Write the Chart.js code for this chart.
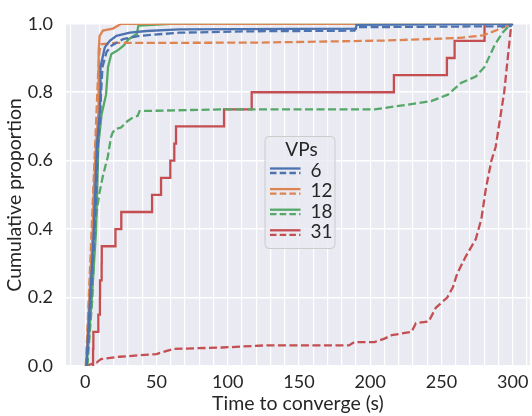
<!DOCTYPE html>
<html>
<head>
<meta charset="utf-8">
<script src="https://cdn.jsdelivr.net/npm/chart.js@4.4.1/dist/chart.umd.min.js"></script>
<style>
  html, body { margin: 0; padding: 0; background: #fff; }
  #wrap { width: 532px; height: 416px; }
</style>
</head>
<body>
<div id="wrap"><canvas id="cdfChart" width="532" height="416"></canvas></div>
<script>
// ticks / legend
const xTickLabels = [0, 50, 100, 150, 200, 250, 300];
const yTickLabels = [0, 0.2, 0.4, 0.6, 0.8, 1.0];
const vpLabels = ['6', '12', '18', '31'];
const vpColors = ['#4C72B0', '#DD8452', '#55A868', '#C44E52'];

// CDF points [time (s), proportion]
const vp6Solid = [[0.8, 0], [3.3, 0.19], [6, 0.39], [7, 0.506], [8.3, 0.65], [10.1, 0.736], [10.6, 0.79],
  [10.7, 0.874], [13.7, 0.931], [17.2, 0.95], [21.9, 0.965], [31.3, 0.974], [43, 0.979], [66, 0.984],
  [190, 0.986], [190.3, 0.997], [300, 1.0]];
const vp6Dashed = [[1, 0], [3.8, 0.19], [6.5, 0.39], [7.7, 0.506], [9, 0.65], [10.6, 0.736], [11, 0.79],
  [12.1, 0.874], [14.9, 0.917], [18.4, 0.936], [26.5, 0.955], [38.2, 0.965], [66, 0.974], [115, 0.978],
  [189, 0.98], [190, 0.99], [298.5, 0.993], [300, 1.0]];
const vp12Solid = [[0.6, 0], [2.8, 0.19], [5.2, 0.39], [6, 0.506], [7.6, 0.65], [9.2, 0.736], [9.4, 0.79],
  [9.4, 0.92], [10.1, 0.965], [12.4, 0.98], [19.4, 0.986], [25.3, 1.0], [300, 1.0]];
const vp12Dashed = [[0.4, 0], [2.5, 0.2], [4.5, 0.4], [6, 0.55], [7.5, 0.7], [9, 0.85], [10, 0.92],
  [11, 0.94], [20, 0.944], [120, 0.945], [210, 0.951], [245, 0.956], [263, 0.959], [279, 0.966],
  [289, 0.982], [298.5, 1.0]];
const vp18Solid = [[1, 0], [4.5, 0.19], [7.5, 0.39], [8.3, 0.506], [9.3, 0.65], [11.5, 0.736], [14.6, 0.793],
  [16, 0.874], [18.3, 0.912], [22.3, 0.921], [26.9, 0.936], [30.4, 0.955], [36.2, 0.97], [37.3, 0.995],
  [60, 1.0], [300, 1.0]];
const vp18Dashed = [[1.5, 0], [5, 0.2], [6.4, 0.38], [8, 0.45], [10, 0.506], [12.3, 0.554], [15.8, 0.611],
  [18.1, 0.669], [19.3, 0.683], [21.6, 0.693], [25.1, 0.697], [29.8, 0.716], [33.3, 0.726], [36.8, 0.731],
  [38.1, 0.745], [96, 0.75], [203, 0.75], [226.6, 0.764], [242.7, 0.774], [254.5, 0.793], [263.7, 0.827],
  [274.1, 0.846], [280.2, 0.874], [287.2, 0.937], [293, 0.975], [298.7, 1.0]];
const vp31Solid = [[5.5, 0], [5.5, 0.05], [5.7, 0.1], [9.2, 0.15], [10.3, 0.2], [10.4, 0.25], [11.5, 0.3],
  [11.6, 0.35], [21.2, 0.4], [25.3, 0.45], [46.9, 0.5], [53.2, 0.55], [59.7, 0.6], [62.5, 0.65],
  [63.7, 0.7], [97.4, 0.75], [116.8, 0.8], [216.6, 0.85], [253.8, 0.9], [259.2, 0.95], [280.2, 1.0]];
const vp31Dashed = [[0, 0], [8, 0.01], [11, 0.02], [24, 0.027], [50, 0.035], [62, 0.05], [96, 0.054],
  [125, 0.06], [185, 0.06], [189, 0.07], [203, 0.07], [210, 0.08], [215, 0.09], [229, 0.1], [232, 0.125],
  [241, 0.13], [246, 0.17], [254, 0.2], [258, 0.23], [261, 0.27], [267, 0.32], [274, 0.37], [278, 0.43],
  [281, 0.515], [285, 0.6], [288, 0.64], [294, 0.8], [299, 1.0]];

const solidSeries = [vp6Solid, vp12Solid, vp18Solid, vp31Solid];
const dashedSeries = [vp6Dashed, vp12Dashed, vp18Dashed, vp31Dashed];

const FONT = 'Lato';
const TEXT = '#262626';
const LW = 2.3;
const DASH = [8, 3.5];

const toXY = arr => arr.map(p => ({ x: p[0], y: p[1] }));

const datasets = [];
vpLabels.forEach((lab, i) => {
  datasets.push({
    label: lab, data: toXY(solidSeries[i]), borderColor: vpColors[i], borderWidth: LW,
    pointRadius: 0, tension: 0, fill: false, stepped: i === 3 ? 'before' : false,
    clip: { left: 0, top: 0, right: 0, bottom: 0 }, order: i * 2
  });
  datasets.push({
    label: lab + ' dashed', data: toXY(dashedSeries[i]), borderColor: vpColors[i], borderWidth: LW,
    borderDash: DASH, pointRadius: 0, tension: 0, fill: false,
    clip: { left: 0, top: 0, right: 0, bottom: 0 }, order: i * 2 + 1
  });
});

// grey-blue plot background like seaborn darkgrid
const bgPlugin = {
  id: 'bg',
  beforeDraw(chart) {
    const { ctx, chartArea: a } = chart;
    ctx.save();
    ctx.fillStyle = '#EAEAF2';
    ctx.fillRect(a.left, a.top, a.right - a.left, a.bottom - a.top);
    ctx.restore();
  }
};

// legend with solid + dashed sample per VP count
const vpLegend = {
  id: 'vpLegend',
  afterDatasetsDraw(chart) {
    const ctx = chart.ctx;
    const bx = 265, by = 136.5, bw = 70, bh = 112;
    ctx.save();
    ctx.beginPath();
    ctx.roundRect(bx, by, bw, bh, 4);
    ctx.fillStyle = 'rgba(234,234,242,0.8)';
    ctx.fill();
    ctx.strokeStyle = '#cccccc';
    ctx.lineWidth = 1;
    ctx.stroke();

    ctx.fillStyle = TEXT;
    ctx.font = '19px ' + FONT;
    ctx.textAlign = 'center';
    ctx.textBaseline = 'middle';
    ctx.fillText('VPs', 301.5, 149.5);

    ctx.textAlign = 'left';
    vpLabels.forEach((lab, i) => {
      const cy = 170.5 + i * 20.6;
      ctx.strokeStyle = vpColors[i];
      ctx.lineWidth = LW;
      ctx.setLineDash([]);
      ctx.beginPath();
      ctx.moveTo(270, cy - 2);
      ctx.lineTo(300.5, cy - 2);
      ctx.stroke();
      ctx.setLineDash([6.5, 3.2]);
      ctx.beginPath();
      ctx.moveTo(270, cy + 2.5);
      ctx.lineTo(300.5, cy + 2.5);
      ctx.stroke();
      ctx.fillText(lab, 310.5, cy);
    });
    ctx.restore();
  }
};

const minorX = [];
for (let v = -10; v <= 310; v += 10) minorX.push(v);

new Chart(document.getElementById('cdfChart'), {
  type: 'line',
  data: { datasets: datasets },
  plugins: [bgPlugin, vpLegend],
  options: {
    responsive: false,
    animation: false,
    devicePixelRatio: 1,
    layout: { padding: { top: 18, right: 0, left: 0, bottom: 0 } },
    plugins: { legend: { display: false }, tooltip: { enabled: false } },
    scales: {
      x: {
        type: 'linear',
        min: -13.5,
        max: 312,
        afterBuildTicks: s => { s.ticks = minorX.map(v => ({ value: v })); },
        afterFit: s => { s.height = 50; },
        ticks: {
          autoSkip: false, maxRotation: 0, padding: 5, color: TEXT,
          font: { family: FONT, size: 18 },
          callback: v => xTickLabels.includes(v) ? String(v) : ''
        },
        grid: { color: '#ffffff', lineWidth: 1.2, drawTicks: false },
        border: { display: false },
        title: {
          display: true, text: 'Time to converge (s)', color: TEXT,
          font: { family: FONT, size: 19.5 }, padding: { top: 0, bottom: 1 }
        }
      },
      y: {
        min: 0,
        max: 1,
        afterBuildTicks: s => { s.ticks = yTickLabels.map(v => ({ value: v })); },
        afterFit: s => { s.width = 66; },
        ticks: {
          padding: 13, color: TEXT, font: { family: FONT, size: 18 },
          callback: v => v.toFixed(1)
        },
        grid: { color: '#ffffff', lineWidth: 1.6, drawTicks: false },
        border: { display: false },
        title: {
          display: true, text: 'Cumulative proportion', color: TEXT,
          font: { family: FONT, size: 19.5 }, padding: { top: 3, bottom: 0 }
        }
      }
    }
  }
});
</script>
</body>
</html>
